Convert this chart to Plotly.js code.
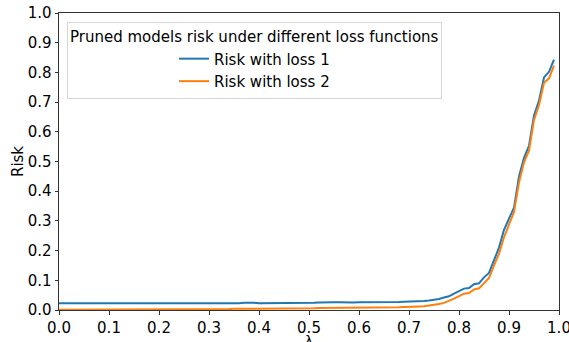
<!DOCTYPE html>
<html>
<head>
<meta charset="utf-8">
<script src="https://cdn.plot.ly/plotly-3.0.1.min.js"></script>
<style>html,body{margin:0;padding:0;background:#fff;}#chart{width:569px;height:342px;}</style>
</head>
<body>
<div id="chart"></div>
<script>
const lambdas = [0.00,0.01,0.02,0.03,0.04,0.05,0.06,0.07,0.08,0.09,
0.10,0.11,0.12,0.13,0.14,0.15,0.16,0.17,0.18,0.19,
0.20,0.21,0.22,0.23,0.24,0.25,0.26,0.27,0.28,0.29,
0.30,0.31,0.32,0.33,0.34,0.35,0.36,0.37,0.38,0.39,
0.40,0.41,0.42,0.43,0.44,0.45,0.46,0.47,0.48,0.49,
0.50,0.51,0.52,0.53,0.54,0.55,0.56,0.57,0.58,0.59,
0.60,0.61,0.62,0.63,0.64,0.65,0.66,0.67,0.68,0.69,
0.70,0.71,0.72,0.73,0.74,0.75,0.76,0.77,0.78,0.79,
0.80,0.81,0.82,0.83,0.84,0.85,0.86,0.87,0.88,0.89,
0.90,0.91,0.92,0.93,0.94,0.95,0.96,0.97,0.98,0.99];

const riskLoss1 = [0.023,0.023,0.023,0.023,0.023,0.022,0.022,0.023,0.022,0.022,
0.022,0.022,0.023,0.022,0.022,0.022,0.022,0.021,0.022,0.022,
0.022,0.022,0.022,0.022,0.023,0.023,0.023,0.023,0.023,0.022,
0.022,0.023,0.023,0.023,0.023,0.023,0.023,0.024,0.025,0.024,
0.023,0.023,0.023,0.023,0.022,0.023,0.023,0.023,0.024,0.024,
0.024,0.024,0.025,0.026,0.026,0.026,0.026,0.025,0.026,0.025,
0.026,0.026,0.025,0.026,0.026,0.025,0.027,0.027,0.027,0.028,
0.028,0.028,0.029,0.030,0.032,0.034,0.037,0.042,0.046,0.055,
0.064,0.072,0.074,0.087,0.090,0.110,0.125,0.170,0.210,0.270,
0.310,0.345,0.450,0.512,0.553,0.655,0.705,0.783,0.802,0.843];

const riskLoss2 = [0.001,0.001,0.001,0.001,0.001,0.001,0.001,0.001,0.001,0.001,
0.001,0.001,0.001,0.001,0.001,0.002,0.002,0.002,0.002,0.002,
0.002,0.002,0.002,0.002,0.002,0.002,0.002,0.003,0.003,0.003,
0.003,0.003,0.003,0.003,0.003,0.004,0.004,0.005,0.005,0.005,
0.004,0.004,0.004,0.004,0.004,0.005,0.005,0.005,0.006,0.006,
0.006,0.006,0.007,0.007,0.007,0.007,0.007,0.007,0.008,0.008,
0.008,0.008,0.008,0.008,0.008,0.008,0.009,0.009,0.009,0.010,
0.010,0.011,0.012,0.013,0.015,0.017,0.020,0.024,0.030,0.038,
0.047,0.055,0.057,0.069,0.073,0.092,0.108,0.150,0.190,0.245,
0.290,0.330,0.430,0.497,0.537,0.640,0.690,0.765,0.780,0.823];

const tickValues = [0.0,0.1,0.2,0.3,0.4,0.5,0.6,0.7,0.8,0.9,1.0];
const tickLabels = ["0.0","0.1","0.2","0.3","0.4","0.5","0.6","0.7","0.8","0.9","1.0"];

const seriesNames = ["Risk with loss 1","Risk with loss 2"];
const legendTitle = "Pruned models risk under different loss functions";
const xTitle = "λ";
const yTitle = "Risk";

const font = {family:"DejaVu Sans", size:15, color:"#000"};

const traces = [
  {x:lambdas, y:riskLoss1, type:"scatter", mode:"lines", name:seriesNames[0], line:{color:"#1f77b4", width:2}},
  {x:lambdas, y:riskLoss2, type:"scatter", mode:"lines", name:seriesNames[1], line:{color:"#ff7f0e", width:2}}
];

const axisCommon = {
  range:[0,1], tickmode:"array", tickvals:tickValues, ticktext:tickLabels,
  showgrid:false, zeroline:false, showline:true, mirror:true,
  linecolor:"#333", linewidth:1, ticks:"outside", ticklen:3.5, tickcolor:"#333",
  tickfont:font, ticklabeloverflow:"allow"
};

const layout = {
  width:569, height:342,
  margin:{l:59, r:10, t:13, b:32},
  paper_bgcolor:"#fff", plot_bgcolor:"#fff",
  font:font,
  showlegend:true,
  xaxis:Object.assign({}, axisCommon, {automargin:false}),
  yaxis:Object.assign({}, axisCommon, {title:{text:yTitle, font:font, standoff:0}, automargin:false}),
  annotations:[{
    text:xTitle, xref:"paper", yref:"paper", x:0.5, y:0, xanchor:"center", yanchor:"top",
    yshift:-21, showarrow:false, font:{family:"DejaVu Sans", size:13, color:"#000"}
  }],
  legend:{
    x:0.016, y:0.97, xanchor:"left", yanchor:"top",
    bgcolor:"rgba(255,255,255,0.8)", bordercolor:"#d6d6d6", borderwidth:1,
    font:font, title:{text:legendTitle, font:font, side:"top"},
    indentation:106, tracegroupgap:0
  }
};

Plotly.newPlot("chart", traces, layout, {staticPlot:true, displayModeBar:false});
</script>
</body>
</html>
